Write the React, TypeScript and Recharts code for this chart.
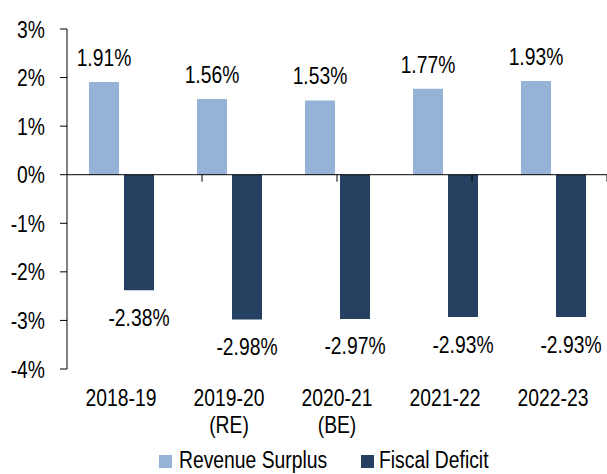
import React from "react";
import {
  BarChart,
  Bar,
  XAxis,
  YAxis,
  ReferenceLine,
  LabelList,
} from "recharts";

const categories = ["2018-19", "2019-20", "2020-21", "2021-22", "2022-23"];
const subLabels = ["", "(RE)", "(BE)", "", ""];
const revenueSurplus = [1.91, 1.56, 1.53, 1.77, 1.93];
const fiscalDeficit = [-2.38, -2.98, -2.97, -2.93, -2.93];
const yTicks = [-4, -3, -2, -1, 0, 1, 2, 3];
// boundaries between categories, where the small ticks on the zero line sit
const boundaries = [1, 2, 3, 4];

const LIGHT = "#95B3D7";
const DARK = "#254061";
const FONT = "'Liberation Sans', Arial, sans-serif";
// the reference uses a narrow face; squeeze the regular one to match
const SQUEEZE = 0.84;
const FS = 23;

const W = 607;
const H = 440;
const TOP = 29;
const X_AXIS_H = 71;
const PLOT_H = H - TOP - X_AXIS_H;
const TICK_LEN = 7 / (PLOT_H / (yTicks[yTicks.length - 1] - yTicks[0]));

const data = categories.map((c, i) => ({
  category: c,
  sub: subLabels[i],
  rs: revenueSurplus[i],
  fd: fiscalDeficit[i],
}));

function NarrowText({ x, y, anchor = "middle", children }: any) {
  return (
    <text
      transform={`translate(${x} ${y}) scale(${SQUEEZE} 1)`}
      textAnchor={anchor}
      fontSize={FS}
      fill="#000"
    >
      {children}
    </text>
  );
}

function CategoryTick(props: any) {
  const { x, y, payload } = props;
  const i = payload.index;
  return (
    <g>
      <NarrowText x={x} y={y + 37}>{categories[i]}</NarrowText>
      {subLabels[i] && <NarrowText x={x} y={y + 64}>{subLabels[i]}</NarrowText>}
    </g>
  );
}

function PercentTick(props: any) {
  const { x, y, payload } = props;
  return (
    <NarrowText x={x} y={y + 8.5} anchor="end">
      {`${payload.value}%`}
    </NarrowText>
  );
}

const renderValueLabel = (props: any) => {
  const vb = props.viewBox ?? props;
  const { x, y, width, height } = vb;
  const v = Number(props.value);
  const top = Math.min(y, y + height);
  const bottom = Math.max(y, y + height);
  const ty = v >= 0 ? top - 16 : bottom + 35.5;
  return (
    <NarrowText x={x + width / 2} y={ty}>
      {`${v.toFixed(2)}%`}
    </NarrowText>
  );
};

const legendText: React.CSSProperties = {
  position: "absolute",
  top: 0,
  whiteSpace: "nowrap",
  transform: `scaleX(${SQUEEZE})`,
  transformOrigin: "left center",
};

export default function App() {
  return (
    <div
      style={{
        position: "absolute",
        left: 0,
        top: 0,
        width: W,
        height: 474,
        overflow: "hidden",
        background: "#fff",
        fontFamily: FONT,
      }}
    >
      <BarChart
        width={W}
        height={H}
        data={data}
        margin={{ top: TOP, right: 0, bottom: 0, left: 0 }}
        barSize={30}
        barGap={5}
      >
        <XAxis
          dataKey="category"
          tick={<CategoryTick />}
          tickLine={false}
          axisLine={false}
          tickSize={0}
          tickMargin={0}
          height={X_AXIS_H}
          interval={0}
        />
        <XAxis xAxisId="grid" type="number" domain={[0, 5]} hide />
        <YAxis
          domain={[-4, 3]}
          ticks={yTicks}
          interval={0}
          width={67}
          tickSize={7}
          tickMargin={15}
          tick={<PercentTick />}
          axisLine={{ stroke: "#000", strokeWidth: 1 }}
          tickLine={{ stroke: "#000", strokeWidth: 1 }}
        />
        <Bar dataKey="rs" name="Revenue Surplus" fill={LIGHT} isAnimationActive={false}>
          <LabelList dataKey="rs" content={renderValueLabel} />
        </Bar>
        <Bar dataKey="fd" name="Fiscal Deficit" fill={DARK} isAnimationActive={false}>
          <LabelList dataKey="fd" content={renderValueLabel} />
        </Bar>
        <ReferenceLine y={0} stroke="#000" strokeWidth={1} />
        {boundaries.map((b) => (
          <ReferenceLine
            key={b}
            xAxisId="grid"
            segment={[
              { x: b, y: 0 },
              { x: b, y: -TICK_LEN },
            ]}
            stroke="#000"
            strokeWidth={1}
          />
        ))}
      </BarChart>
      <div
        style={{
          position: "absolute",
          top: 449,
          left: 0,
          width: W,
          height: 22,
          fontSize: FS,
          lineHeight: "22px",
          color: "#000",
        }}
      >
        <span style={{ position: "absolute", left: 159, top: 6, width: 13, height: 13, background: LIGHT }} />
        <span style={{ ...legendText, left: 179 }}>Revenue Surplus</span>
        <span style={{ position: "absolute", left: 361, top: 6, width: 13, height: 13, background: DARK }} />
        <span style={{ ...legendText, left: 379 }}>Fiscal Deficit</span>
      </div>
    </div>
  );
}
